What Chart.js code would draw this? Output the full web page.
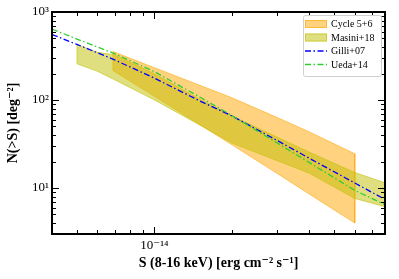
<!DOCTYPE html>
<html><head><meta charset="utf-8">
<script src="https://cdn.jsdelivr.net/npm/chart.js@4.4.0/dist/chart.umd.min.js"></script>
<style>html,body{margin:0;padding:0;background:#fff;}</style>
</head><body>
<canvas id="c" width="399" height="279" style="width:399px;height:279px;display:block"></canvas>
<script>
// ---- data ----
const seriesNames = ['Cycle 5+6', 'Masini+18', 'Gilli+07', 'Ueda+14'];
const modelFlux = [4e-15, 5e-15, 7e-15, 1e-14, 1.5e-14, 2e-14, 3e-14, 4e-14, 6e-14, 8e-14];
const gilli07 = [555, 428, 286, 177, 97.6, 65.9, 34.6, 21.7, 11.4, 7.2];
const ueda14 = [638, 493, 336, 210, 108, 66.6, 32.4, 19.4, 9.4, 6.3];
const cycleFlux = [6.9e-15, 1e-14, 2e-14, 3e-14, 4e-14, 6e-14];
const cycleUpper = [355, 233, 106, 63.1, 43.4, 24.5];
const cycleLower = [216, 110, 31.0, 14.6, 8.5, 4.0];
const masiniFlux = [5e-15, 6e-15, 7e-15, 1e-14, 1.5e-14, 2e-14, 3e-14, 4e-14, 6e-14, 7.9e-14];
const masiniUpper = [428, 348, 327, 199, 102, 65.8, 37.8, 25.5, 15.0, 11.4];
const masiniLower = [258, 212, 170, 100, 51.9, 32.4, 20.4, 14.7, 7.6, 6.1];
const xRange = [4.0e-15, 7.86e-14];
const yRange = [3.0, 1000];
const xMajorTicks = [1e-14];
const xMajorLabels = ['10⁻¹⁴'];
const yMajorTicks = [10, 100, 1000];
const yMajorLabels = ['10¹', '10²', '10³'];
const xTitle = 'S (8-16 keV) [erg cm⁻² s⁻¹]';
const yTitle = 'N(>S) [deg⁻²]';

function band(xs, up, lo) {
  const pts = xs.map((x, i) => ({x: x, y: up[i]}));
  for (let i = xs.length - 1; i >= 0; i--) pts.push({x: xs[i], y: lo[i]});
  pts.push({x: xs[0], y: up[0]});
  return pts;
}
function line(xs, ys) { return xs.map((x, i) => ({x: x, y: ys[i]})); }
function labelFor(v, ticks, labels) {
  for (let i = 0; i < ticks.length; i++) {
    if (Math.abs(Math.log10(v) - Math.log10(ticks[i])) < 1e-6) return labels[i];
  }
  return '';
}

const SERIF = '"Liberation Serif", "DejaVu Serif", serif';

const frame = {
  id: 'frame',
  afterDatasetsDraw(chart) {
    const {ctx, chartArea: a, scales} = chart;
    ctx.save();
    ctx.strokeStyle = '#000';
    ctx.lineWidth = 1;
    const drawTicks = (scale, horizontal) => {
      scale.ticks.forEach(t => {
        const v = t.value;
        const e = Math.floor(Math.log10(v) + 1e-9);
        const m = v / Math.pow(10, e);
        if (Math.abs(m - Math.round(m)) > 1e-6) return;
        const major = Math.abs(m - 1) < 1e-6 || Math.abs(m - 10) < 1e-6;
        const L = major ? 7 : 4;
        const p = Math.round(scale.getPixelForValue(v)) + 0.5;
        ctx.beginPath();
        if (horizontal) {
          ctx.moveTo(p, a.bottom); ctx.lineTo(p, a.bottom - L);
          ctx.moveTo(p, a.top); ctx.lineTo(p, a.top + L);
        } else {
          ctx.moveTo(a.left, p); ctx.lineTo(a.left + L, p);
          ctx.moveTo(a.right, p); ctx.lineTo(a.right - L, p);
        }
        ctx.stroke();
      });
    };
    drawTicks(scales.x, true);
    drawTicks(scales.y, false);
    ctx.lineWidth = 2;
    ctx.strokeRect(a.left, a.top, a.width, a.height);
    ctx.restore();
  },
  afterDraw(chart) {
    const {ctx} = chart;
    ctx.save();
    const bx = 303, by = 15, bw = 78, bh = 61;
    ctx.beginPath();
    ctx.roundRect(bx + 0.5, by + 0.5, bw, bh, 2);
    ctx.fillStyle = 'rgba(255,255,255,0.8)';
    ctx.fill();
    ctx.strokeStyle = '#d0d0d0';
    ctx.lineWidth = 1;
    ctx.stroke();
    const rows = [24, 37.5, 51, 64.5];
    ctx.font = '10px ' + SERIF;
    ctx.textBaseline = 'middle';
    chart.data.datasets.forEach((ds, i) => {
      const y = rows[i];
      if (ds.fill) {
        ctx.fillStyle = ds.backgroundColor;
        ctx.fillRect(305, y - 4, 22, 8);
        ctx.strokeStyle = ds.borderColor;
        ctx.lineWidth = 1;
        ctx.strokeRect(305.5, y - 3.5, 21, 7);
      } else {
        ctx.strokeStyle = ds.borderColor;
        ctx.lineWidth = ds.borderWidth;
        ctx.setLineDash(ds.borderDash);
        ctx.beginPath();
        ctx.moveTo(305, y); ctx.lineTo(327, y);
        ctx.stroke();
        ctx.setLineDash([]);
      }
      ctx.fillStyle = '#000';
      ctx.fillText(ds.label, 331, y + 0.5);
    });
    ctx.restore();
  }
};

new Chart(document.getElementById('c'), {
  type: 'scatter',
  data: {
    datasets: [
      {label: seriesNames[0], data: band(cycleFlux, cycleUpper, cycleLower), showLine: true, fill: 'shape',
       backgroundColor: 'rgba(255,165,0,0.5)', borderColor: 'rgba(255,165,0,0.55)', borderWidth: 1,
       pointRadius: 0, tension: 0, order: 4, clip: 0},
      {label: seriesNames[1], data: band(masiniFlux, masiniUpper, masiniLower), showLine: true, fill: 'shape',
       backgroundColor: 'rgba(191,191,0,0.5)', borderColor: 'rgba(191,191,0,0.55)', borderWidth: 1,
       pointRadius: 0, tension: 0, order: 3, clip: 0},
      {label: seriesNames[2], data: line(modelFlux, gilli07), showLine: true, fill: false,
       borderColor: '#0000ff', borderWidth: 1.3, borderDash: [6, 2.5, 1.5, 2.5],
       pointRadius: 0, tension: 0, order: 2, clip: 0},
      {label: seriesNames[3], data: line(modelFlux, ueda14), showLine: true, fill: false,
       borderColor: '#32cd32', borderWidth: 1.3, borderDash: [6, 2.5, 1.5, 2.5],
       pointRadius: 0, tension: 0, order: 1, clip: 0}
    ]
  },
  options: {
    responsive: false, animation: false, devicePixelRatio: 1,
    layout: {padding: {top: 12, right: 14, left: 0, bottom: 0}},
    plugins: {legend: {display: false}, tooltip: {enabled: false}},
    scales: {
      x: {
        type: 'logarithmic', min: xRange[0], max: xRange[1],
        grid: {display: false, drawTicks: false}, border: {display: false},
        ticks: {autoSkip: false, maxRotation: 0, padding: 4, color: '#000',
          font: {family: SERIF, size: 13},
          callback: (v) => labelFor(v, xMajorTicks, xMajorLabels)},
        title: {display: true, text: xTitle, color: '#000',
          font: {family: SERIF, size: 14, weight: 'bold'}, padding: {top: 0, bottom: 7}},
        afterFit(s) { s.height = 45; }
      },
      y: {
        type: 'logarithmic', min: yRange[0], max: yRange[1],
        grid: {display: false, drawTicks: false}, border: {display: false},
        ticks: {autoSkip: false, padding: 3, color: '#000',
          font: {family: SERIF, size: 13},
          callback: (v) => labelFor(v, yMajorTicks, yMajorLabels)},
        title: {display: true, text: yTitle, color: '#000',
          font: {family: SERIF, size: 14, weight: 'bold'}, padding: {top: 5, bottom: 0}},
        afterFit(s) { s.width = 52; }
      }
    }
  },
  plugins: [frame]
});
</script>
</body></html>
